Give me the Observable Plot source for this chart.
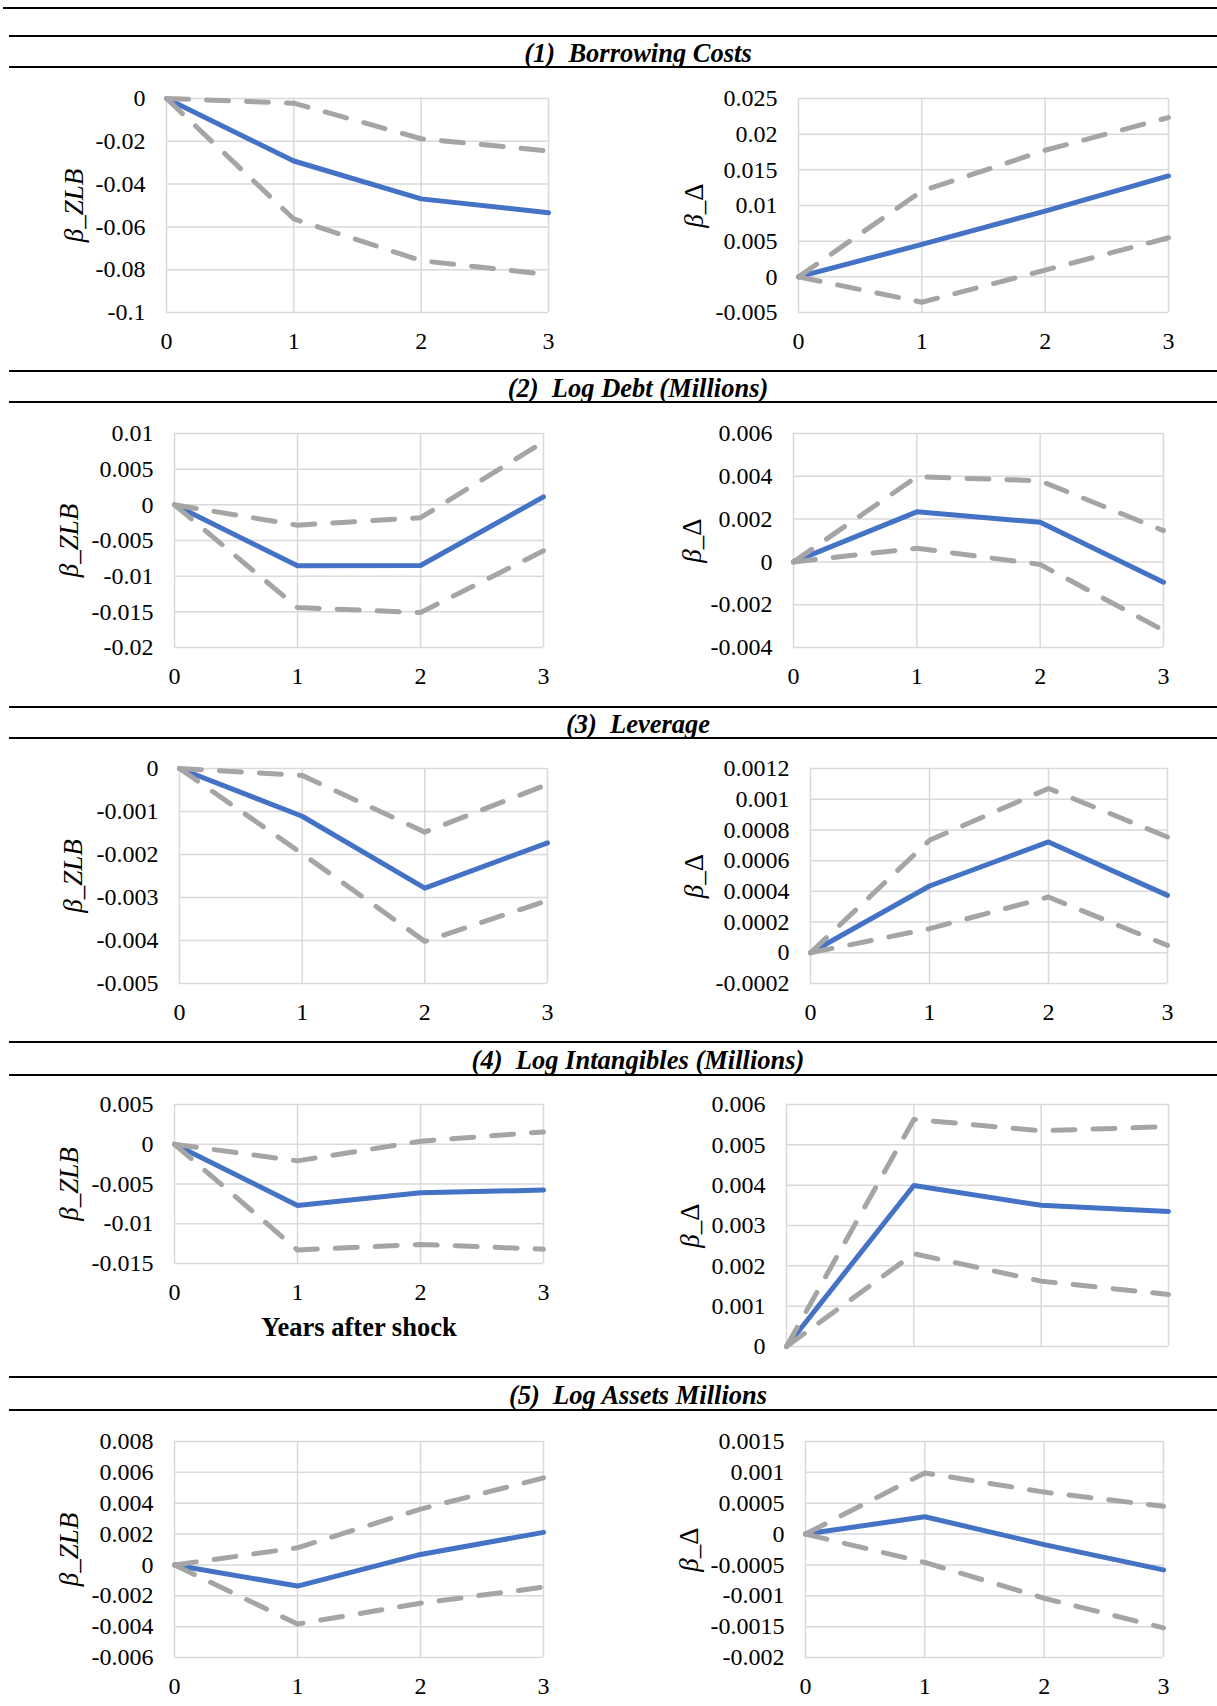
<!DOCTYPE html>
<html><head><meta charset="utf-8">
<script src="https://cdn.jsdelivr.net/npm/d3@7"></script>
<script src="https://cdn.jsdelivr.net/npm/@observablehq/plot@0.6"></script>
<style>
body{margin:0;background:#fff;}
#page{position:relative;width:1217px;height:1706px;overflow:hidden;background:#fff;font-family:"Liberation Serif","Times New Roman",serif;}
.rule{position:absolute;right:0;background:#000;}
.sec{position:absolute;transform:translate(-50%,-50%);font-weight:bold;font-style:italic;font-size:26.5px;white-space:pre;line-height:1;color:#000;}
.panel{position:absolute;}
</style></head><body><div id="page"></div>
<script>
// ---------- data ----------
const years = [0, 1, 2, 3];
const xTickLabels = ["0", "1", "2", "3"];
const sectionTitles = ["(1)  Borrowing Costs", "(2)  Log Debt (Millions)", "(3)  Leverage", "(4)  Log Intangibles (Millions)", "(5)  Log Assets Millions"];
const yLabelZLB = "β_ZLB";
const yLabelDelta = "β_Δ";
const xTitle = "Years after shock";

// (1) Borrowing costs
const p1L_est = [0, -0.0292, -0.0469, -0.0534];
const p1L_hi  = [0, -0.0022, -0.0188, -0.0245];
const p1L_lo  = [0, -0.0563, -0.0758, -0.0823];
const p1L_ticks = ["0", "-0.02", "-0.04", "-0.06", "-0.08", "-0.1"];
const p1R_est = [0, 0.00454, 0.00922, 0.01414];
const p1R_hi  = [0, 0.01203, 0.01774, 0.02233];
const p1R_lo  = [0, -0.00356, 0.00094, 0.00548];
const p1R_ticks = ["0.025", "0.02", "0.015", "0.01", "0.005", "0", "-0.005"];

// (2) Log debt
const p2L_est = [0, -0.00855, -0.0085, 0.00112];
const p2L_hi  = [0, -0.00285, -0.0018, 0.00883];
const p2L_lo  = [0, -0.0144, -0.0151, -0.00645];
const p2L_ticks = ["0.01", "0.005", "0", "-0.005", "-0.01", "-0.015", "-0.02"];
const p2R_est = [0, 0.00234, 0.00185, -0.00095];
const p2R_hi  = [0, 0.00398, 0.00379, 0.00146];
const p2R_lo  = [0, 0.00064, -0.00012, -0.0032];
const p2R_ticks = ["0.006", "0.004", "0.002", "0", "-0.002", "-0.004"];

// (3) Leverage
const p3L_est = [0, -0.00111, -0.00278, -0.00173];
const p3L_hi  = [0, -0.00016, -0.00148, -0.00037];
const p3L_lo  = [0, -0.00198, -0.00402, -0.00307];
const p3L_ticks = ["0", "-0.001", "-0.002", "-0.003", "-0.004", "-0.005"];
const p3R_est = [0, 0.000435, 0.000722, 0.000374];
const p3R_hi  = [0, 0.000733, 0.00107, 0.000754];
const p3R_lo  = [0, 0.000157, 0.000363, 0.000048];
const p3R_ticks = ["0.0012", "0.001", "0.0008", "0.0006", "0.0004", "0.0002", "0", "-0.0002"];

// (4) Log intangibles
const p4L_est = [0, -0.0077, -0.0061, -0.00577];
const p4L_hi  = [0, -0.00209, 0.00038, 0.00155];
const p4L_lo  = [0, -0.0133, -0.0126, -0.0132];
const p4L_ticks = ["0.005", "0", "-0.005", "-0.01", "-0.015"];
const p4R_est = [0, 0.00399, 0.0035, 0.00335];
const p4R_hi  = [0, 0.00563, 0.00535, 0.00545];
const p4R_lo  = [0, 0.0023, 0.00162, 0.00129];
const p4R_ticks = ["0.006", "0.005", "0.004", "0.003", "0.002", "0.001", "0"];

// (5) Log assets
const p5L_est = [0, -0.00137, 0.00068, 0.00211];
const p5L_hi  = [0, 0.00111, 0.00362, 0.00564];
const p5L_lo  = [0, -0.00383, -0.00248, -0.00144];
const p5L_ticks = ["0.008", "0.006", "0.004", "0.002", "0", "-0.002", "-0.004", "-0.006"];
const p5R_est = [0, 0.00028, -0.00017, -0.00058];
const p5R_hi  = [0, 0.00099, 0.00068, 0.00045];
const p5R_lo  = [0, -0.00046, -0.00104, -0.00152];
const p5R_ticks = ["0.0015", "0.001", "0.0005", "0", "-0.0005", "-0.001", "-0.0015", "-0.002"];

// ---------- styles / layout ----------
const BLUE = "#4472C4", GRAY = "#A5A5A5", GRID = "#D9D9D9";
const FONT = "'Liberation Serif','Times New Roman',serif";
const TICK_FS = 24, LABEL_FS = 27, LW = 5;
const page = document.getElementById("page");

function rule(y, h, left) {
  const d = document.createElement("div");
  d.className = "rule";
  d.style.top = (y - h / 2) + "px";
  d.style.height = h + "px";
  d.style.left = left + "px";
  page.appendChild(d);
}
rule(7.6, 2, 3);
const secLines = [[36, 67], [371, 402], [707, 738], [1042, 1075], [1377, 1410]];
secLines.forEach(([a, b], i) => {
  rule(a, 2, 9);
  rule(b, 1.4, 9);
  const t = document.createElement("div");
  t.className = "sec";
  t.textContent = sectionTitles[i];
  t.style.left = "638px";
  t.style.top = ((a + b) / 2 + 1) + "px";
  page.appendChild(t);
});

function panel(o) {
  const svgLeft = o.side === "L" ? 0 : 600;
  const width = o.side === "L" ? 600 : 617;
  const mt = 30;
  const mb = o.xTitle ? 100 : 60;
  const ph = o.plotBottom - o.plotTop;
  const tickVals = o.ticks.map(Number);
  const fmt = new Map(tickVals.map((v, i) => [v, o.ticks[i]]));
  const lineOpts = {x: (d, i) => years[i]};
  const marks = [
    Plot.gridX(years, {stroke: GRID, strokeOpacity: 1, strokeWidth: 1.5}),
    Plot.gridY(tickVals, {stroke: GRID, strokeOpacity: 1, strokeWidth: 1.5}),
    Plot.axisY(tickVals, {tickSize: 0, tickPadding: 21, tickFormat: d => fmt.get(d), fontSize: TICK_FS, label: null, fill: "#000"}),
    Plot.line(o.est, {...lineOpts, y: d => d, stroke: BLUE, strokeWidth: LW, strokeLinejoin: "round"}),
    Plot.line(o.hi, {...lineOpts, y: d => d, stroke: GRAY, strokeWidth: LW, strokeDasharray: "22,18"}),
    Plot.line(o.lo, {...lineOpts, y: d => d, stroke: GRAY, strokeWidth: LW, strokeDasharray: "22,18"}),
    Plot.text([o.yLabel], {frameAnchor: "left", rotate: -90, dx: o.labelX - o.plotLeft, text: d => d, textAnchor: "middle", lineAnchor: "middle", fontStyle: "italic", fontSize: LABEL_FS, fill: "#000"})
  ];
  if (o.showX) marks.push(Plot.axisX(years, {tickSize: 0, tickPadding: 19, tickFormat: (d) => xTickLabels[years.indexOf(d)], fontSize: TICK_FS, label: null, fill: "#000"}));
  if (o.xTitle) marks.push(Plot.text([o.xTitle], {frameAnchor: "bottom", dy: 64, text: d => d, fontWeight: "bold", fontSize: 26.5, fill: "#000", lineAnchor: "middle"}));
  const chart = Plot.plot({
    width, height: mt + ph + mb,
    marginLeft: o.plotLeft - svgLeft,
    marginRight: svgLeft + width - o.plotRight,
    marginTop: mt, marginBottom: mb,
    style: {fontFamily: FONT, fontSize: TICK_FS + "px", color: "#000", background: "transparent", overflow: "visible"},
    x: {domain: [0, 3], axis: null},
    y: {domain: [d3.min(tickVals), d3.max(tickVals)], axis: null},
    marks
  });
  // Render the Greek capital Delta upright, as in the original label
  d3.select(chart).selectAll("text").each(function () {
    if (this.textContent === yLabelDelta) {
      const el = d3.select(this);
      el.text(null);
      el.append("tspan").text("β_");
      el.append("tspan").attr("font-style", "normal").text("Δ");
    }
  });
  chart.classList.add("panel");
  chart.style.left = svgLeft + "px";
  chart.style.top = (o.plotTop - mt) + "px";
  page.appendChild(chart);
}

panel({side: "L", est: p1L_est, hi: p1L_hi, lo: p1L_lo, ticks: p1L_ticks, yLabel: yLabelZLB, plotLeft: 166, plotRight: 548, plotTop: 98, plotBottom: 312, labelX: 74, showX: true});
panel({side: "R", est: p1R_est, hi: p1R_hi, lo: p1R_lo, ticks: p1R_ticks, yLabel: yLabelDelta, plotLeft: 798, plotRight: 1168, plotTop: 98, plotBottom: 312, labelX: 694, showX: true});
panel({side: "L", est: p2L_est, hi: p2L_hi, lo: p2L_lo, ticks: p2L_ticks, yLabel: yLabelZLB, plotLeft: 174, plotRight: 543, plotTop: 433, plotBottom: 647, labelX: 69, showX: true});
panel({side: "R", est: p2R_est, hi: p2R_hi, lo: p2R_lo, ticks: p2R_ticks, yLabel: yLabelDelta, plotLeft: 793, plotRight: 1163, plotTop: 433, plotBottom: 647, labelX: 692, showX: true});
panel({side: "L", est: p3L_est, hi: p3L_hi, lo: p3L_lo, ticks: p3L_ticks, yLabel: yLabelZLB, plotLeft: 179, plotRight: 547, plotTop: 768, plotBottom: 983, labelX: 73, showX: true});
panel({side: "R", est: p3R_est, hi: p3R_hi, lo: p3R_lo, ticks: p3R_ticks, yLabel: yLabelDelta, plotLeft: 810, plotRight: 1167, plotTop: 768, plotBottom: 983, labelX: 694, showX: true});
panel({side: "L", est: p4L_est, hi: p4L_hi, lo: p4L_lo, ticks: p4L_ticks, yLabel: yLabelZLB, plotLeft: 174, plotRight: 543, plotTop: 1104, plotBottom: 1263, labelX: 69, showX: true, xTitle: xTitle});
panel({side: "R", est: p4R_est, hi: p4R_hi, lo: p4R_lo, ticks: p4R_ticks, yLabel: yLabelDelta, plotLeft: 786, plotRight: 1168, plotTop: 1104, plotBottom: 1346, labelX: 690, showX: false});
panel({side: "L", est: p5L_est, hi: p5L_hi, lo: p5L_lo, ticks: p5L_ticks, yLabel: yLabelZLB, plotLeft: 174, plotRight: 543, plotTop: 1441, plotBottom: 1657, labelX: 69, showX: true});
panel({side: "R", est: p5R_est, hi: p5R_hi, lo: p5R_lo, ticks: p5R_ticks, yLabel: yLabelDelta, plotLeft: 805, plotRight: 1163, plotTop: 1441, plotBottom: 1657, labelX: 689, showX: true});
</script>
</body></html>
